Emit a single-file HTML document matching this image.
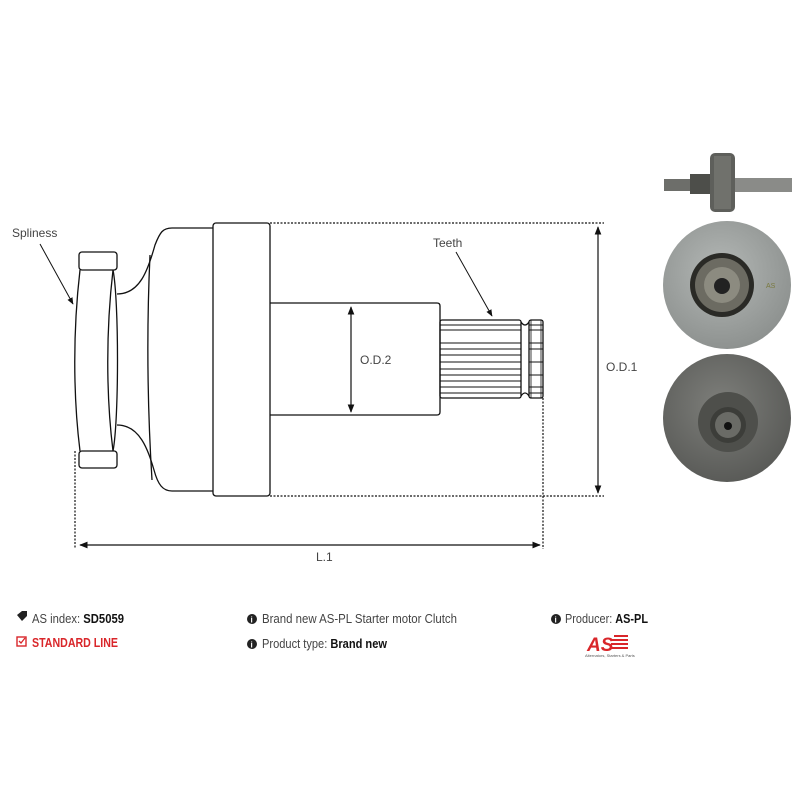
<!DOCTYPE html>
<html><head><meta charset="utf-8"><style>
html,body{margin:0;padding:0;background:#fff;}
.t{font-family:"Liberation Sans",sans-serif;font-size:12px;fill:#444;}
.f{font-family:"Liberation Sans Narrow","Liberation Sans",sans-serif;font-size:12.5px;fill:#444;}
</style></head><body>
<svg width="800" height="800" viewBox="0 0 800 800" xmlns="http://www.w3.org/2000/svg">
<defs>
<marker id="a" viewBox="0 0 10 10" refX="9" refY="5" markerWidth="7" markerHeight="7" orient="auto-start-reverse"><path d="M0,1 L10,5 L0,9z" fill="#111"/></marker>
<radialGradient id="g1" cx="45%" cy="40%" r="60%"><stop offset="0" stop-color="#b4b8b6"/><stop offset="1" stop-color="#8e9290"/></radialGradient>
<radialGradient id="g2" cx="45%" cy="40%" r="60%"><stop offset="0" stop-color="#7e7f7b"/><stop offset="1" stop-color="#5a5b58"/></radialGradient>
</defs>
<g fill="none" stroke="#111" stroke-width="1.3">
<path d="M80,270 C73,330 73,395 80,451"/>
<path d="M113,270 C106,330 106,395 113,451"/>
<path d="M113,270 C119,300 119,420 113,451"/>
<rect x="79" y="252" width="38" height="18" rx="3" fill="#fff"/>
<rect x="79" y="451" width="38" height="17" rx="3" fill="#fff"/>
<path d="M117,294 C140,294 148,270 155,245 C160,232 163,228 172,228 L213,228"/>
<path d="M117,425 C140,425 148,450 154,470 C158,485 163,491 172,491 L213,491"/>
<path d="M150,255 C147,320 147,400 152,480"/>
<rect x="213" y="223" width="57" height="273" rx="3"/>
<path d="M270,303 L437,303 Q440,303 440,306 L440,412 Q440,415 437,415 L270,415"/>
<rect x="440" y="320" width="81" height="78" rx="2"/>
<rect x="529" y="320" width="14" height="78" rx="2"/>
<path d="M521,322 Q525,328 529,322 M521,396 Q525,390 529,396"/>
<path d="M440,325H521M440,330H521M440,343H521M440,349H521M440,355H521M440,362H521M440,369H521M440,375H521M440,381H521M440,387H521M440,393H521" stroke-width="0.9"/>
<path d="M529,325H543M529,330H543M529,343H543M529,349H543M529,362H543M529,375H543M529,387H543M529,393H543" stroke-width="0.9"/>
<path d="M531,320V398M541,320V398" stroke-width="0.8"/>
</g>
<g stroke="#111" stroke-width="1.2" fill="none">
<path d="M270,223H604M270,496H604M75,451V549M543,398V549" stroke-dasharray="2,1.5"/>
<line x1="598" y1="227" x2="598" y2="493" marker-start="url(#a)" marker-end="url(#a)"/>
<line x1="351" y1="307" x2="351" y2="412" marker-start="url(#a)" marker-end="url(#a)"/>
<line x1="80" y1="545" x2="540" y2="545" marker-start="url(#a)" marker-end="url(#a)"/>
<line x1="40" y1="244" x2="73" y2="304" stroke-width="1" marker-end="url(#a)"/>
<line x1="456" y1="252" x2="492" y2="316" stroke-width="1" marker-end="url(#a)"/>
</g>
<text class="t" x="12" y="237">Spliness</text>
<text class="t" x="433" y="247">Teeth</text>
<text class="t" x="360" y="364">O.D.2</text>
<text class="t" x="606" y="371">O.D.1</text>
<text class="t" x="316" y="561">L.1</text>
<g>
<rect x="664" y="179" width="50" height="12" fill="#6d6e6a"/>
<rect x="733" y="178" width="59" height="14" fill="#8a8b88"/>
<rect x="690" y="174" width="22" height="20" fill="#4d4e4a"/>
<rect x="710" y="153" width="25" height="59" rx="5" fill="#5e5f5b"/>
<rect x="714" y="156" width="17" height="53" fill="#70716c"/>
<circle cx="727" cy="285" r="64" fill="url(#g1)"/>
<circle cx="722" cy="285" r="32" fill="#2a2a26"/>
<circle cx="722" cy="285" r="27" fill="#6c6b62"/>
<circle cx="722" cy="285" r="18" fill="#8c8b80"/>
<circle cx="722" cy="286" r="8" fill="#222"/>
<text x="766" y="288" font-family="Liberation Sans" font-size="7" fill="#7a7a40">AS</text>
<circle cx="727" cy="418" r="64" fill="url(#g2)"/>
<circle cx="728" cy="422" r="30" fill="#4e4f4b"/>
<circle cx="728" cy="425" r="18" fill="#3c3d39"/>
<circle cx="728" cy="425" r="13" fill="#6a6b66"/>
<circle cx="728" cy="426" r="4" fill="#111"/>
</g>
<g>
<path d="M17,615 l5,-4 h5 v5 l-5,5 z" fill="#222"/>
<text x="32" y="623" class="f" textLength="92" lengthAdjust="spacingAndGlyphs">AS index: <tspan font-weight="bold" fill="#111">SD5059</tspan></text>
<rect x="17" y="637" width="9" height="9" fill="none" stroke="#d9262a" stroke-width="1.4"/>
<path d="M19,641 l2,2 l4,-5" stroke="#d9262a" stroke-width="1.3" fill="none"/>
<text x="32" y="647" class="f" font-weight="bold" style="fill:#d9262a" textLength="86" lengthAdjust="spacingAndGlyphs">STANDARD LINE</text>
<circle cx="252" cy="619" r="5" fill="#222"/><text x="250.5" y="622.5" font-size="8" fill="#fff" font-weight="bold" font-family="Liberation Sans">i</text>
<text x="262" y="623" class="f" textLength="195" lengthAdjust="spacingAndGlyphs">Brand new AS-PL Starter motor Clutch</text>
<circle cx="252" cy="644" r="5" fill="#222"/><text x="250.5" y="647.5" font-size="8" fill="#fff" font-weight="bold" font-family="Liberation Sans">i</text>
<text x="262" y="648" class="f" textLength="125" lengthAdjust="spacingAndGlyphs">Product type: <tspan font-weight="bold" fill="#111">Brand new</tspan></text>
<circle cx="556" cy="619" r="5" fill="#222"/><text x="554.5" y="622.5" font-size="8" fill="#fff" font-weight="bold" font-family="Liberation Sans">i</text>
<text x="565" y="623" class="f" textLength="83" lengthAdjust="spacingAndGlyphs">Producer: <tspan font-weight="bold" fill="#111">AS-PL</tspan></text>
<text x="587" y="651" font-family="Liberation Sans" font-size="19" font-weight="bold" font-style="italic" fill="#d9262a">AS</text>
<path d="M614,636h14M612,640h16M611,644h17M610,648h18" stroke="#d9262a" stroke-width="2"/>
<text x="585" y="657" font-family="Liberation Sans" font-size="4" fill="#555">Alternators, Starters &amp; Parts</text>
</g>
</svg>
</body></html>
